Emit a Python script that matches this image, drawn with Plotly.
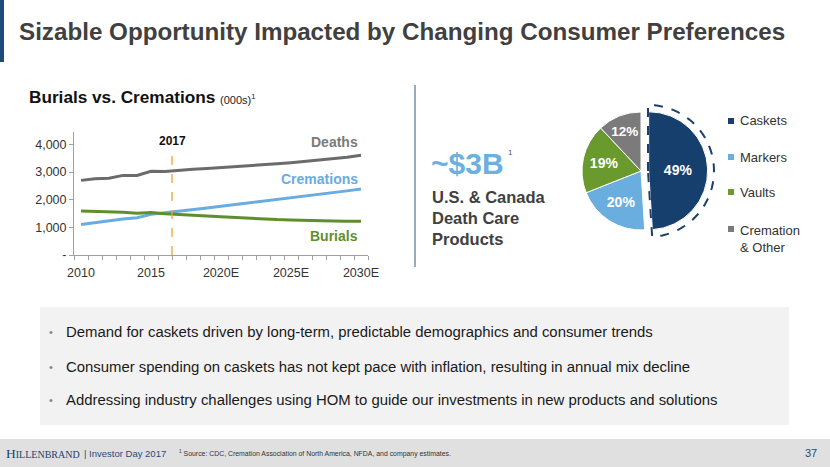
import numpy as np
import plotly.graph_objects as go

W, H = 830, 467

# ---------------- data ----------------
years = list(range(2010, 2031))
deaths = [2700, 2760, 2780, 2880, 2880, 3030, 3020, 3070, 3100, 3130, 3160,
          3190, 3220, 3260, 3300, 3340, 3390, 3430, 3480, 3540, 3610]
cremations = [1100, 1170, 1220, 1300, 1350, 1470, 1530, 1580, 1640, 1700, 1760,
              1820, 1890, 1950, 2010, 2070, 2130, 2200, 2260, 2320, 2390]
burials = [1590, 1580, 1550, 1550, 1510, 1540, 1490, 1470, 1440, 1410, 1380,
           1350, 1320, 1300, 1280, 1270, 1250, 1240, 1230, 1225, 1220]
x_tick_vals = [2010, 2015, 2020, 2025, 2030]
x_tick_text = ["2010", "2015", "2020E", "2025E", "2030E"]
y_tick_vals = [0, 1000, 2000, 3000, 4000]
y_tick_text = ["-", "1,000", "2,000", "3,000", "4,000"]
marker_year = 2016.5

pie_labels = ["Caskets", "Markers", "Vaults", "Cremation<br>& Other"]
pie_values = [49, 20, 19, 12]
pie_colors = ["#173f6d", "#6aaee0", "#6a9a2e", "#7b7b7b"]

bullets = [
    "Demand for caskets driven by long-term, predictable demographics and consumer trends",
    "Consumer spending on caskets has not kept pace with inflation, resulting in annual mix decline",
    "Addressing industry challenges using HOM to guide our investments in new products and solutions",
]

# ---------------- helpers ----------------
def px(x):
    return x / W

def py(y):
    return 1 - y / H

FONT = "Liberation Sans, Arial, sans-serif"

fig = go.Figure()

# line chart
c_death, c_crem, c_bur = "#6b6b6b", "#69ace0", "#5f8f2a"
fig.add_trace(go.Scatter(x=years, y=deaths, mode="lines", line=dict(color=c_death, width=3),
                         xaxis="x", yaxis="y", showlegend=False, hoverinfo="skip"))
fig.add_trace(go.Scatter(x=years, y=cremations, mode="lines", line=dict(color=c_crem, width=3),
                         xaxis="x", yaxis="y", showlegend=False, hoverinfo="skip"))
fig.add_trace(go.Scatter(x=years, y=burials, mode="lines", line=dict(color=c_bur, width=3),
                         xaxis="x", yaxis="y", showlegend=False, hoverinfo="skip"))

# pie
pie_cx, pie_cy, pie_r, pull = 641, 171, 59, 0.13
half = pie_r * (1 + pull)
fig.add_trace(go.Pie(
    labels=pie_labels, values=pie_values, sort=False, direction="clockwise", rotation=0,
    marker=dict(colors=pie_colors, line=dict(color="white", width=1)),
    pull=[pull, 0, 0, 0],
    texttemplate="%{value}%", textposition="inside", insidetextorientation="horizontal",
    textfont=dict(color="white", size=14, family=FONT, weight="bold"),
    domain=dict(x=[px(pie_cx - half), px(pie_cx + half)], y=[py(pie_cy + half), py(pie_cy - half)]),
    showlegend=False, hoverinfo="skip"))

shapes = []
# left navy bar
shapes.append(dict(type="rect", xref="paper", yref="paper", x0=0, x1=px(4), y0=py(62), y1=1,
                   fillcolor="#1f4a7c", line=dict(width=0), layer="below"))
# separator
shapes.append(dict(type="line", xref="paper", yref="paper", x0=px(415), x1=px(415), y0=py(85), y1=py(267),
                   line=dict(color="#9aaac2", width=2)))
# bullet box
shapes.append(dict(type="rect", xref="paper", yref="paper", x0=px(40), x1=px(789), y0=py(425), y1=py(307),
                   fillcolor="#f2f2f2", line=dict(width=0), layer="below"))
# footer band
shapes.append(dict(type="rect", xref="paper", yref="paper", x0=0, x1=1, y0=0, y1=py(439),
                   fillcolor="#e0e0e0", line=dict(width=0), layer="below"))
# 2017 marker line
shapes.append(dict(type="line", xref="x", yref="paper", x0=marker_year, x1=marker_year, y0=py(255), y1=py(150),
                   line=dict(color="#f5a030", width=1.3, dash="dash")))

# dashed outline around the caskets slice
frac = pie_values[0] / sum(pie_values)
ocx, ocy, orad = pie_cx + 7, pie_cy, pie_r + 7
ang = np.linspace(0, frac * 2 * np.pi, 60)
pts = [(ocx, ocy)] + [(ocx + orad * np.sin(a), ocy - orad * np.cos(a)) for a in ang]
path = "M " + " L ".join(f"{px(a):.5f},{py(b):.5f}" for a, b in pts) + " Z"
shapes.append(dict(type="path", xref="paper", yref="paper", path=path,
                   line=dict(color="#1f3f6e", width=2, dash="dash")))

# legend squares
legend_y = [121, 157, 192, 229]
for c, ly in zip(pie_colors, legend_y):
    shapes.append(dict(type="rect", xref="paper", yref="paper", x0=px(728), x1=px(734),
                       y0=py(ly + 3), y1=py(ly - 3), fillcolor=c, line=dict(width=0)))

annotations = []
def ann(text, x, y, size, color="#333333", bold=False, xanchor="left", family=FONT, yanchor="middle"):
    annotations.append(dict(text=(f"<b>{text}</b>" if bold else text), x=px(x), y=py(y), xref="paper", yref="paper",
                            xanchor=xanchor, yanchor=yanchor, showarrow=False,
                            font=dict(size=size, color=color, family=family)))

ann("Sizable Opportunity Impacted by Changing Consumer Preferences", 17, 32, 24.2, "#404040", True)
ann("Burials vs. Cremations", 27, 97, 17.2, "#111111", True)
ann("(000s)<sup style='font-size:7px'>1</sup>", 218, 99, 11, "#222222")
ann("2017", 172, 141, 12, "#111111", True, "center")
ann("Deaths", 360, 142, 14, "#7a7a7a", True, "right")
ann("Cremations", 360, 179, 14, c_crem, True, "right")
ann("Burials", 360, 236, 14, c_bur, True, "right")

ann("~$3B", 429, 163, 30, "#6cb0e0", True)
ann("1", 506, 152, 8, "#555555")
ann("U.S. & Canada", 430, 197, 16.5, "#404040", True)
ann("Death Care", 430, 218, 16.5, "#404040", True)
ann("Products", 430, 239, 16.5, "#404040", True)

for lbl, ly in zip(pie_labels, legend_y):
    if "<br>" in lbl:
        annotations.append(dict(text=lbl, x=px(738), y=py(ly - 8), xref="paper", yref="paper",
                                xanchor="left", yanchor="top", align="left", showarrow=False,
                                font=dict(size=13, color="#333333", family=FONT)))
    else:
        ann(lbl, 738, ly, 13, "#333333")

for b, ly in zip(bullets, [332, 367, 400]):
    ann("•", 47, ly, 11, "#888888")
    ann(b, 64, ly, 14.9, "#1a1a1a")

ann("H<span style='font-size:10px'>ILLENBRAND</span>", 4, 453, 13.5, "#1f3f6e", family="Liberation Serif, Times New Roman, serif")
ann("| Investor Day 2017", 82, 453, 9.5, "#2a4a7a")
ann("<sup style='font-size:5px'>1</sup> Source: CDC, Cremation Association of North America, NFDA, and company estimates.",
    177, 453, 6.9, "#333333")
ann("37", 819, 453, 11, "#2a4a7a", xanchor="right")

minor_vals = [y - 0.5 for y in years] + [years[-1] + 0.5]

fig.update_layout(
    width=W, height=H, margin=dict(l=0, r=0, t=0, b=0, pad=0, autoexpand=False),
    paper_bgcolor="white", plot_bgcolor="rgba(0,0,0,0)",
    font=dict(family=FONT, color="#333333"),
    xaxis=dict(domain=[px(74), px(368)], range=[years[0] - 0.5, years[-1] + 0.5], automargin=False,
               tickvals=x_tick_vals, ticktext=x_tick_text, ticks="outside", ticklen=6, tickcolor="rgba(0,0,0,0)",
               showgrid=False, zeroline=False,
               showline=True, linecolor="#a0a0a0", linewidth=1,
               minor=dict(tickvals=minor_vals, ticks="outside", ticklen=4, tickcolor="#a0a0a0", showgrid=False),
               tickfont=dict(size=12.5, color="#333333"), anchor="y", fixedrange=True),
    yaxis=dict(domain=[py(255), py(132)], range=[0, 4450], tickvals=y_tick_vals, ticktext=y_tick_text,
               automargin=False, showgrid=False, zeroline=False, showline=True, linecolor="#a0a0a0", linewidth=1,
               ticks="outside", ticklen=4, tickcolor="#a0a0a0",
               tickfont=dict(size=12.5, color="#333333"), anchor="x", fixedrange=True),
    shapes=shapes, annotations=annotations, showlegend=False,
)

fig.write_html("out.html", config={"displayModeBar": False},
               post_script="document.body.style.margin='0';document.body.style.overflow='hidden';")
